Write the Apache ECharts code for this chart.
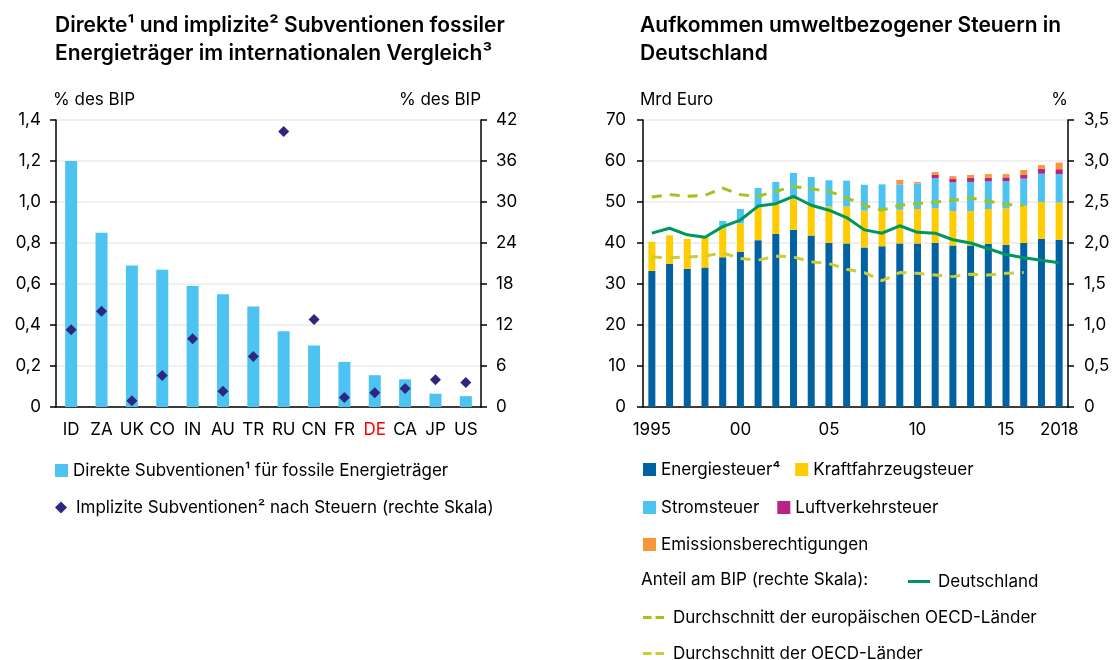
<!DOCTYPE html>
<html>
<head>
<meta charset="utf-8">
<script src="https://cdn.jsdelivr.net/npm/echarts@6/dist/echarts.min.js"></script>
<style>
html, body { margin: 0; padding: 0; background: #fff; }
#container { width: 1115px; height: 660px; }
</style>
</head>
<body>
<div id="container"></div>
<script>
var dom = document.getElementById("container");
var myChart = echarts.init(dom);

// linke Grafik
var countries = ['ID', 'ZA', 'UK', 'CO', 'IN', 'AU', 'TR', 'RU', 'CN', 'FR', 'DE', 'CA', 'JP', 'US'];
var direkt = [1.20, 0.85, 0.69, 0.67, 0.59, 0.55, 0.49, 0.37, 0.30, 0.22, 0.155, 0.135, 0.065, 0.053];
var implizit = [11.3, 14.0, 0.9, 4.6, 10.0, 2.3, 7.4, 40.3, 12.8, 1.4, 2.1, 2.7, 4.0, 3.6];

// rechte Grafik
var years = ['1995', '1996', '1997', '1998', '1999', '2000', '2001', '2002', '2003', '2004', '2005', '2006',
    '2007', '2008', '2009', '2010', '2011', '2012', '2013', '2014', '2015', '2016', '2017', '2018'];
var energie = [33.2, 34.9, 33.7, 34.0, 36.5, 37.8, 40.7, 42.2, 43.2, 41.8, 40.0, 39.9,
    38.9, 39.2, 39.9, 39.9, 40.0, 39.4, 39.4, 39.8, 39.5, 40.0, 41.0, 40.8];
var kfz = [7.1, 7.0, 7.3, 7.6, 7.1, 7.0, 8.0, 7.5, 7.5, 7.5, 8.9, 9.0,
    9.0, 9.0, 8.2, 8.4, 8.5, 8.4, 8.4, 8.5, 8.9, 9.1, 9.0, 9.1];
var strom = ['-', '-', '-', '-', 1.8, 3.5, 4.7, 5.2, 6.4, 6.8, 6.4, 6.3,
    6.3, 6.1, 6.2, 6.2, 7.3, 7.0, 7.1, 6.7, 6.7, 6.6, 6.9, 6.9];
var luft = ['-', '-', '-', '-', '-', '-', '-', '-', '-', '-', '-', '-',
    '-', '-', '-', '-', 0.8, 0.8, 1.0, 0.9, 0.9, 0.9, 1.2, 1.2];
var emission = ['-', '-', '-', '-', '-', '-', '-', '-', '-', '-', '-', '-',
    '-', '-', 1.1, 0.4, 0.7, 0.7, 0.7, 0.9, 0.8, 1.2, 0.9, 1.6];
var deutschland = [2.12, 2.18, 2.10, 2.07, 2.20, 2.28, 2.45, 2.48, 2.57, 2.46, 2.40, 2.31,
    2.16, 2.12, 2.21, 2.13, 2.12, 2.04, 2.00, 1.93, 1.86, 1.82, 1.79, 1.76];
var euOecd = [2.56, 2.59, 2.57, 2.58, 2.67, 2.59, 2.57, 2.63, 2.69, 2.66, 2.63, 2.55,
    2.46, 2.40, 2.46, 2.48, 2.50, 2.52, 2.55, 2.51, 2.47, 2.46, '-', '-'];
var oecd = [1.83, 1.82, 1.83, 1.84, 1.88, 1.81, 1.79, 1.84, 1.83, 1.77, 1.75, 1.68,
    1.64, 1.54, 1.64, 1.63, 1.61, 1.59, 1.62, 1.61, 1.63, 1.64, '-', '-'];
var yearLabels = {'1995': '1995', '2000': '00', '2005': '05', '2010': '10', '2015': '15', '2018': '2018'};

var font = 'Inter';
var fs = 17;

function komma1(v) {
    return v === 0 ? '0' : v.toFixed(1).replace('.', ',');
}

var axisLine = {lineStyle: {color: '#000', width: 1.5}};
var grid = {lineStyle: {color: '#ebebeb', width: 1.5}};
var lbl = {color: '#000', fontSize: fs, fontFamily: font};
var txt = {color: '#000', fontSize: fs, fontFamily: font};

// Legendensymbole für Linien
var solidIcon = 'path://M0,0h22v3h-22z';
var dashIcon = 'path://M0,0h8.5v3h-8.5z M12.5,0h8.5v3h-8.5z';

option = {
    backgroundColor: '#fff',
    animation: false,
    textStyle: {fontFamily: font},
    title: [
        {
            text: 'Direkte¹ und implizite² Subventionen fossiler\nEnergieträger im internationalen Vergleich³',
            left: 50, top: 7,
            textStyle: {fontSize: 21, fontWeight: 600, color: '#000', lineHeight: 28, fontFamily: font}
        },
        {
            text: 'Aufkommen umweltbezogener Steuern in\nDeutschland',
            left: 635, top: 7,
            textStyle: {fontSize: 21, fontWeight: 600, color: '#000', lineHeight: 28, fontFamily: font}
        }
    ],
    grid: [
        {left: 56, right: 634, top: 120, bottom: 253},
        {left: 643, right: 47, top: 120, bottom: 253}
    ],
    xAxis: [
        {
            type: 'category', gridIndex: 0, data: countries,
            axisLine: axisLine,
            axisTick: {length: 6, interval: 0, lineStyle: {color: '#000', width: 1.5}},
            axisLabel: {
                color: '#000', fontSize: fs, fontFamily: font, margin: 14, interval: 0,
                formatter: function (v) { return v === 'DE' ? '{r|DE}' : v; },
                rich: {r: {color: '#ff0000', fontSize: fs, fontFamily: font}}
            }
        },
        {
            type: 'category', gridIndex: 1, data: years,
            axisLine: axisLine,
            axisTick: {length: 6, interval: 0, lineStyle: {color: '#000', width: 1.5}},
            axisLabel: {
                color: '#000', fontSize: fs, fontFamily: font, margin: 14,
                interval: function (i, v) { return yearLabels[v] !== undefined; },
                formatter: function (v) { return yearLabels[v] || ''; }
            }
        }
    ],
    yAxis: [
        {
            type: 'value', gridIndex: 0, min: 0, max: 1.4, interval: 0.2,
            name: '% des BIP', nameLocation: 'end', nameGap: 12,
            nameTextStyle: {color: '#000', fontSize: fs, fontFamily: font, align: 'left', padding: [0, 0, 0, -3]},
            axisLine: {show: true, lineStyle: {color: '#000', width: 1.5}},
            axisTick: {show: true, length: 6, lineStyle: {color: '#000', width: 1.5}},
            axisLabel: Object.assign({margin: 15, formatter: komma1}, lbl),
            splitLine: grid
        },
        {
            type: 'value', gridIndex: 0, min: 0, max: 42, interval: 6, position: 'right',
            name: '% des BIP', nameLocation: 'end', nameGap: 12,
            nameTextStyle: {color: '#000', fontSize: fs, fontFamily: font, align: 'right'},
            axisLine: {show: true, lineStyle: {color: '#000', width: 1.5}},
            axisTick: {show: true, length: 6, lineStyle: {color: '#000', width: 1.5}},
            axisLabel: Object.assign({margin: 15}, lbl),
            splitLine: {show: false}
        },
        {
            type: 'value', gridIndex: 1, min: 0, max: 70, interval: 10,
            name: 'Mrd Euro', nameLocation: 'end', nameGap: 12,
            nameTextStyle: {color: '#000', fontSize: fs, fontFamily: font, align: 'left', padding: [0, 0, 0, -3]},
            axisLine: {show: true, lineStyle: {color: '#000', width: 1.5}},
            axisTick: {show: true, length: 6, lineStyle: {color: '#000', width: 1.5}},
            axisLabel: Object.assign({margin: 17}, lbl),
            splitLine: grid
        },
        {
            type: 'value', gridIndex: 1, min: 0, max: 3.5, interval: 0.5, position: 'right',
            name: '%', nameLocation: 'end', nameGap: 12,
            nameTextStyle: {color: '#000', fontSize: fs, fontFamily: font, align: 'right'},
            axisLine: {show: true, lineStyle: {color: '#000', width: 1.5}},
            axisTick: {show: true, length: 6, lineStyle: {color: '#000', width: 1.5}},
            axisLabel: Object.assign({margin: 16, formatter: komma1}, lbl),
            splitLine: {show: false}
        }
    ],
    legend: [
        {
            data: [{name: 'Direkte Subventionen¹ für fossile Energieträger', icon: 'rect'}],
            left: 50, top: 457, itemWidth: 13, itemHeight: 13,
            textStyle: txt
        },
        {
            data: [{name: 'Implizite Subventionen² nach Steuern (rechte Skala)', icon: 'diamond'}],
            left: 50, top: 494, itemWidth: 12, itemHeight: 12,
            textStyle: Object.assign({padding: [0, 0, 0, 4]}, txt)
        },
        {
            data: [{name: 'Energiesteuer⁴', icon: 'rect'}, {name: 'Kraftfahrzeugsteuer', icon: 'rect'}],
            left: 638, top: 456, itemWidth: 13, itemHeight: 13, itemGap: 15,
            textStyle: txt
        },
        {
            data: [{name: 'Stromsteuer', icon: 'rect'}, {name: 'Luftverkehrsteuer', icon: 'rect'}],
            left: 638, top: 494, itemWidth: 13, itemHeight: 13, itemGap: 18,
            textStyle: txt
        },
        {
            data: [{name: 'Emissionsberechtigungen', icon: 'rect'}],
            left: 638, top: 531, itemWidth: 13, itemHeight: 13,
            textStyle: txt
        },
        {
            data: [{name: 'Deutschland', icon: solidIcon}],
            left: 903, top: 568, itemWidth: 22, itemHeight: 3,
            textStyle: Object.assign({padding: [0, 0, 0, 3]}, txt)
        },
        {
            data: [{name: 'Durchschnitt der europäischen OECD-Länder', icon: dashIcon}],
            left: 638, top: 604, itemWidth: 21, itemHeight: 3,
            textStyle: Object.assign({padding: [0, 0, 0, 4]}, txt)
        },
        {
            data: [{name: 'Durchschnitt der OECD-Länder', icon: dashIcon}],
            left: 638, top: 640, itemWidth: 21, itemHeight: 3,
            textStyle: Object.assign({padding: [0, 0, 0, 4]}, txt)
        }
    ],
    graphic: [
        {
            type: 'text', left: 641, top: 571,
            style: {text: 'Anteil am BIP (rechte Skala):', fill: '#000', fontSize: fs, fontFamily: font}
        }
    ],
    series: [
        {
            name: 'Direkte Subventionen¹ für fossile Energieträger',
            type: 'bar', xAxisIndex: 0, yAxisIndex: 0,
            data: direkt, barWidth: 12,
            itemStyle: {color: '#4cc3f1'}
        },
        {
            name: 'Implizite Subventionen² nach Steuern (rechte Skala)',
            type: 'scatter', xAxisIndex: 0, yAxisIndex: 1,
            data: implizit, symbol: 'diamond', symbolSize: 11,
            itemStyle: {color: '#2e2780', opacity: 1}
        },
        {
            name: 'Energiesteuer⁴', type: 'bar', stack: 'st', xAxisIndex: 1, yAxisIndex: 2,
            data: energie, barWidth: 7, itemStyle: {color: '#0061a3'}
        },
        {
            name: 'Kraftfahrzeugsteuer', type: 'bar', stack: 'st', xAxisIndex: 1, yAxisIndex: 2,
            data: kfz, barWidth: 7, itemStyle: {color: '#ffcc00'}
        },
        {
            name: 'Stromsteuer', type: 'bar', stack: 'st', xAxisIndex: 1, yAxisIndex: 2,
            data: strom, barWidth: 7, itemStyle: {color: '#4cc3f1'}
        },
        {
            name: 'Luftverkehrsteuer', type: 'bar', stack: 'st', xAxisIndex: 1, yAxisIndex: 2,
            data: luft, barWidth: 7, itemStyle: {color: '#b8247f'}
        },
        {
            name: 'Emissionsberechtigungen', type: 'bar', stack: 'st', xAxisIndex: 1, yAxisIndex: 2,
            data: emission, barWidth: 7, itemStyle: {color: '#f7963b'}
        },
        {
            name: 'Durchschnitt der europäischen OECD-Länder', type: 'line', xAxisIndex: 1, yAxisIndex: 3,
            data: euOecd, symbol: 'none', z: 5,
            lineStyle: {color: '#9fc41e', width: 3, type: [10, 8]},
            itemStyle: {color: '#9fc41e'}
        },
        {
            name: 'Durchschnitt der OECD-Länder', type: 'line', xAxisIndex: 1, yAxisIndex: 3,
            data: oecd, symbol: 'none', z: 5,
            lineStyle: {color: '#cccc35', width: 3, type: [10, 8]},
            itemStyle: {color: '#cccc35'}
        },
        {
            name: 'Deutschland', type: 'line', xAxisIndex: 1, yAxisIndex: 3,
            data: deutschland, symbol: 'none', z: 6,
            lineStyle: {color: '#00975e', width: 3},
            itemStyle: {color: '#00975e'}
        }
    ]
};

if (option && typeof option === "object") {
    myChart.setOption(option, true);
}
</script>
</body>
</html>
